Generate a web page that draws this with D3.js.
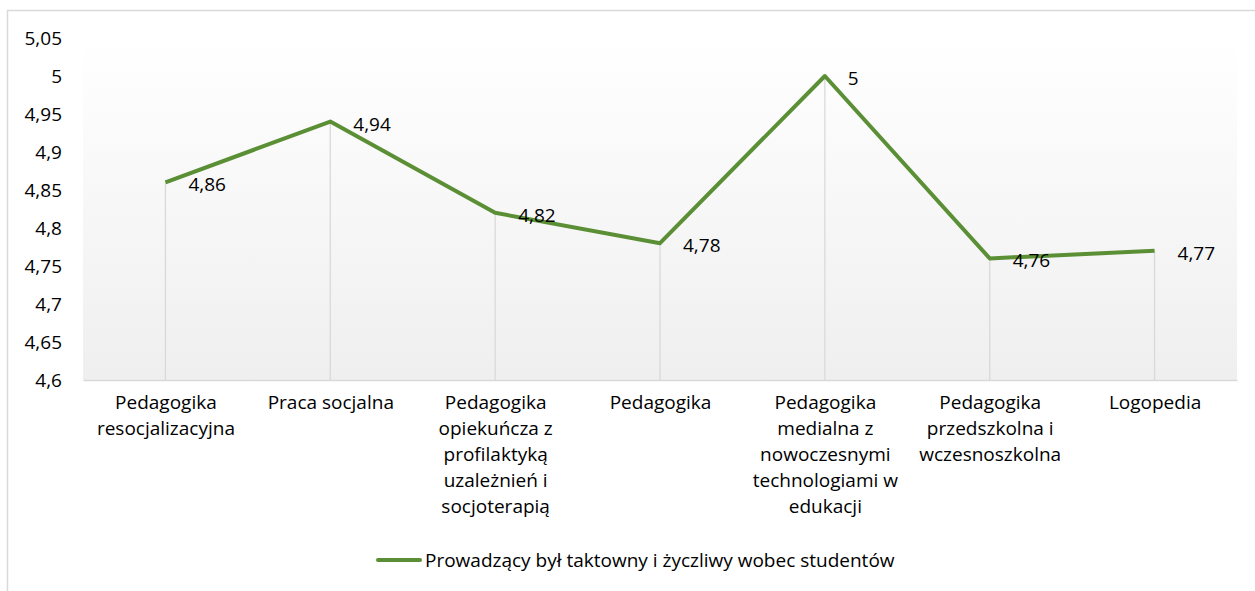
<!DOCTYPE html>
<html>
<head>
<meta charset="utf-8">
<script src="https://cdn.jsdelivr.net/npm/d3@7"></script>
<style>
  body { margin: 0; background: #fff; }
  text { font-family: "Open Sans", "Noto Sans", sans-serif; fill: #000; }
</style>
</head>
<body>
<div id="chart"></div>
<script>
// chart data
var categories = [
  "Pedagogika resocjalizacyjna",
  "Praca socjalna",
  "Pedagogika opiekuńcza z profilaktyką uzależnień i socjoterapią",
  "Pedagogika",
  "Pedagogika medialna z nowoczesnymi technologiami w edukacji",
  "Pedagogika przedszkolna i wczesnoszkolna",
  "Logopedia"
];
var values = [4.86, 4.94, 4.82, 4.78, 5, 4.76, 4.77];
var yTicks = [4.6, 4.65, 4.7, 4.75, 4.8, 4.85, 4.9, 4.95, 5, 5.05];
var seriesName = "Prowadzący był taktowny i życzliwy wobec studentów";

// svg area
var svgWidth = 1255;
var svgHeight = 591;

var margin = { top: 38, right: 18, bottom: 211, left: 83 };
var chartWidth = svgWidth - margin.left - margin.right;
var chartHeight = svgHeight - margin.top - margin.bottom;

var fontSize = "19px";
var lineColor = "#5b8f35";
var fmt = function(v) { return String(+v.toFixed(2)).replace(".", ","); };

var svg = d3.select("#chart")
  .append("svg")
  .attr("width", svgWidth)
  .attr("height", svgHeight);

// outer chart border
svg.append("rect")
  .attr("x", 7.5)
  .attr("y", 10.5)
  .attr("width", svgWidth)
  .attr("height", svgHeight)
  .attr("fill", "none")
  .attr("stroke", "#d9d9d9")
  .attr("stroke-width", 1.5);

// plot background gradient
var grad = svg.append("defs").append("linearGradient")
  .attr("id", "bg")
  .attr("x1", 0).attr("y1", 0).attr("x2", 0).attr("y2", 1);
grad.append("stop").attr("offset", "0%").attr("stop-color", "#ffffff");
grad.append("stop").attr("offset", "100%").attr("stop-color", "#efefef");

var chartGroup = svg.append("g")
  .attr("transform", `translate(${margin.left}, ${margin.top})`);

chartGroup.append("rect")
  .attr("width", chartWidth)
  .attr("height", chartHeight)
  .attr("fill", "url(#bg)");

// scales
var xScale = d3.scalePoint()
  .domain(categories)
  .range([0, chartWidth])
  .padding(0.5);

var yScale = d3.scaleLinear()
  .domain([4.6, 5.05])
  .range([chartHeight, 0]);

// y axis
var leftAxis = d3.axisLeft(yScale)
  .tickValues(yTicks)
  .tickFormat(fmt)
  .tickSize(0)
  .tickPadding(21);

var yAxis = chartGroup.append("g").call(leftAxis);
yAxis.select(".domain").remove();
yAxis.selectAll("text")
  .style("font-size", fontSize)
  .style("font-family", "'Open Sans', 'Noto Sans', sans-serif");

// drop lines
chartGroup.selectAll(".drop")
  .data(values)
  .enter()
  .append("line")
  .attr("class", "drop")
  .attr("x1", (d, i) => xScale(categories[i]))
  .attr("x2", (d, i) => xScale(categories[i]))
  .attr("y1", d => yScale(d))
  .attr("y2", chartHeight)
  .attr("stroke", "#d9d9d9")
  .attr("stroke-width", 1.3);

// x axis
var bottomAxis = d3.axisBottom(xScale).tickSize(0).tickPadding(0);
var xAxis = chartGroup.append("g")
  .attr("transform", `translate(0, ${chartHeight})`)
  .call(bottomAxis);
xAxis.select(".domain").attr("stroke", "#d9d9d9").attr("stroke-width", 1.5);
xAxis.selectAll("text").remove();

// wrapped category labels
xAxis.selectAll(".tick").each(function(cat) {
  var t = d3.select(this).append("text")
    .attr("text-anchor", "middle")
    .style("font-size", fontSize)
    .attr("y", 29);
  var words = cat.split(" ");
  var lines = [];
  var cur = [];
  var probe = t.append("tspan");
  words.forEach(function(w) {
    var test = cur.concat([w]).join(" ");
    probe.text(test);
    if (probe.node().getComputedTextLength() > 160 && cur.length) {
      lines.push(cur.join(" "));
      cur = [w];
    } else {
      cur.push(w);
    }
  });
  lines.push(cur.join(" "));
  probe.remove();
  lines.forEach(function(l, i) {
    t.append("tspan")
      .attr("x", 0)
      .attr("y", 29 + i * 26)
      .text(l);
  });
});

// line
var line = d3.line()
  .x((d, i) => xScale(categories[i]))
  .y(d => yScale(d));

chartGroup.append("path")
  .datum(values)
  .attr("d", line)
  .attr("fill", "none")
  .attr("stroke", lineColor)
  .attr("stroke-width", 4)
  .attr("stroke-linejoin", "round");

// data labels
chartGroup.selectAll(".lbl")
  .data(values)
  .enter()
  .append("text")
  .attr("class", "lbl")
  .attr("x", (d, i) => xScale(categories[i]) + 23)
  .attr("y", d => yScale(d) + 9)
  .style("font-size", fontSize)
  .text(fmt);

// legend
var legend = svg.append("g").attr("transform", "translate(378, 560)");
legend.append("line")
  .attr("x1", 0).attr("x2", 42)
  .attr("stroke", lineColor)
  .attr("stroke-width", 4)
  .attr("stroke-linecap", "round");
legend.append("text")
  .attr("x", 47)
  .attr("y", 7)
  .style("font-size", fontSize)
  .text(seriesName);
</script>
</body>
</html>
